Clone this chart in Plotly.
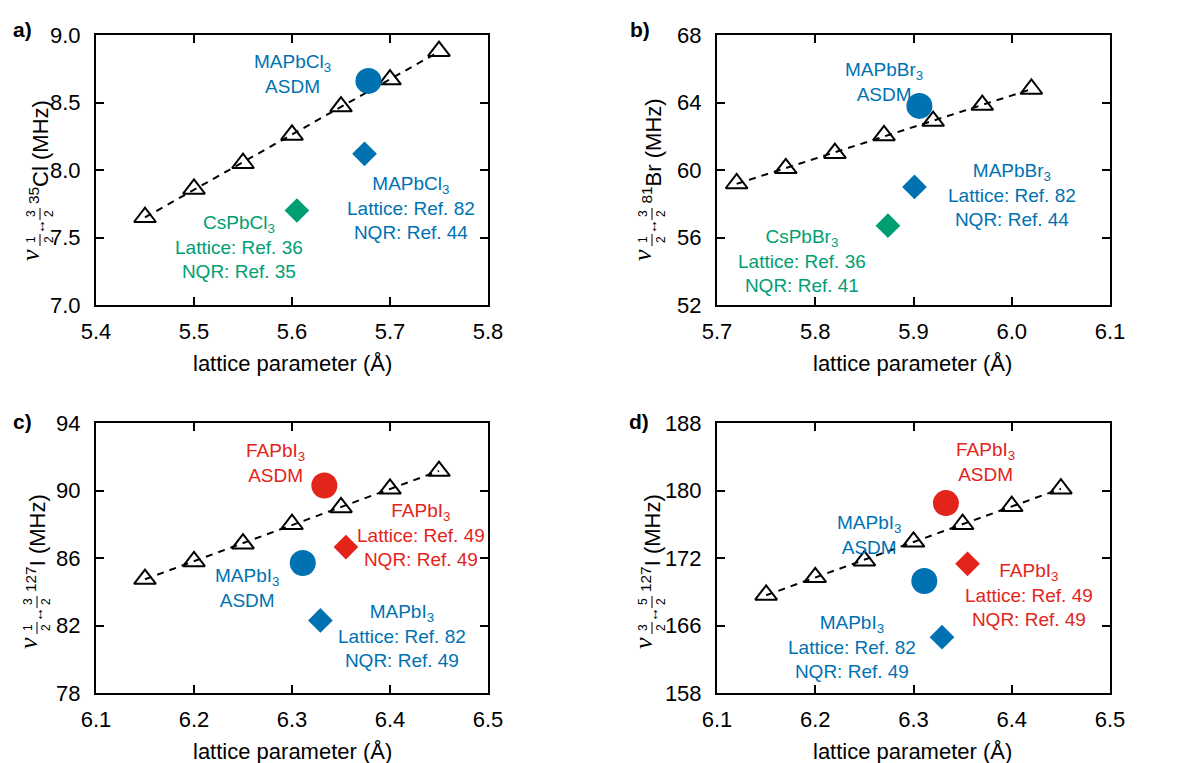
import numpy as np
import plotly.graph_objects as go

# ---------------- data ----------------
# a) 35Cl, nu(1/2 <-> 3/2)
cl_lat = [5.45, 5.50, 5.55, 5.60, 5.65, 5.70, 5.75]
cl_calc = [7.65, 7.86, 8.05, 8.26, 8.47, 8.67, 8.88]
cl_ma_asdm_x, cl_ma_asdm_y = [5.678], [8.66]
cl_ma_exp_x, cl_ma_exp_y = [5.674], [8.12]
cl_cs_exp_x, cl_cs_exp_y = [5.605], [7.70]

# b) 81Br, nu(1/2 <-> 3/2)
br_lat = [5.72, 5.77, 5.82, 5.87, 5.92, 5.97, 6.02]
br_calc = [59.2, 60.1, 61.0, 62.05, 62.9, 63.85, 64.8]
br_ma_asdm_x, br_ma_asdm_y = [5.906], [63.8]
br_ma_exp_x, br_ma_exp_y = [5.901], [59.0]
br_cs_exp_x, br_cs_exp_y = [5.874], [56.7]

# c) 127I, nu(1/2 <-> 3/2)
i1_lat = [6.15, 6.20, 6.25, 6.30, 6.35, 6.40, 6.45]
i1_calc = [84.75, 85.8, 86.85, 88.0, 89.0, 90.1, 91.15]
i1_fa_asdm_x, i1_fa_asdm_y = [6.333], [90.3]
i1_ma_asdm_x, i1_ma_asdm_y = [6.311], [85.7]
i1_fa_exp_x, i1_fa_exp_y = [6.355], [86.65]
i1_ma_exp_x, i1_ma_exp_y = [6.329], [82.3]

# d) 127I, nu(3/2 <-> 5/2)
i2_lat = [6.15, 6.20, 6.25, 6.30, 6.35, 6.40, 6.45]
i2_calc = [168.9, 170.85, 172.7, 174.8, 176.75, 178.75, 180.7]
i2_fa_asdm_x, i2_fa_asdm_y = [6.333], [179.1]
i2_ma_asdm_x, i2_ma_asdm_y = [6.311], [170.45]
i2_fa_exp_x, i2_fa_exp_y = [6.355], [172.35]
i2_ma_exp_x, i2_ma_exp_y = [6.329], [164.2]

# tick values / labels
a_xticks = [5.4, 5.5, 5.6, 5.7, 5.8]
a_yticks = [7.0, 7.5, 8.0, 8.5, 9.0]
b_xticks = [5.7, 5.8, 5.9, 6.0, 6.1]
b_yticks = [52, 56, 60, 64, 68]
c_xticks = [6.1, 6.2, 6.3, 6.4, 6.5]
c_yticks = [78, 82, 86, 90, 94]
d_xticks = [6.1, 6.2, 6.3, 6.4, 6.5]
d_ytickvals = [158, 165.5, 173, 180.5, 188]
d_yticktext = ["158", "166", "172", "180", "188"]

# ---------------- style ----------------
BLUE = "#0072B2"
GREEN = "#009E73"
RED = "#E3241B"
FONT = "Liberation Sans, Arial, sans-serif"
SERIF = "Liberation Serif, Times New Roman, serif"
W, H = 1198, 763

fig = go.Figure()


def px_x(p):
    return p / W


def px_y(p):
    return 1 - p / H


# panel frames in pixels: left, right, top, bottom
boxes = {
    "": (96, 488, 35, 305),
    "2": (717, 1110, 35, 305),
    "3": (96, 488, 423, 693),
    "4": (717, 1110, 423, 693),
}


def add_calc(ax, xs, ys):
    xref, yref = "x" + ax, "y" + ax
    k, b0 = np.polyfit(xs, ys, 1)
    xf = np.array([min(xs), max(xs)])
    fig.add_trace(go.Scatter(x=xf, y=k * xf + b0, mode="lines",
                             line=dict(color="black", width=2, dash="7px,6px"),
                             xaxis=xref, yaxis=yref, showlegend=False, hoverinfo="skip"))
    fig.add_trace(go.Scatter(x=xs, y=ys, mode="markers",
                             marker=dict(symbol="triangle-up-open", size=19, color="black",
                                         line=dict(width=2, color="black")),
                             xaxis=xref, yaxis=yref, showlegend=False))


def add_pt(ax, xs, ys, color, symbol):
    size = 26 if symbol == "circle" else 19
    fig.add_trace(go.Scatter(x=xs, y=ys, mode="markers",
                             marker=dict(symbol=symbol, size=size, color=color, line=dict(width=0)),
                             xaxis="x" + ax, yaxis="y" + ax, showlegend=False))


add_calc("", cl_lat, cl_calc)
add_pt("", cl_ma_asdm_x, cl_ma_asdm_y, BLUE, "circle")
add_pt("", cl_ma_exp_x, cl_ma_exp_y, BLUE, "diamond")
add_pt("", cl_cs_exp_x, cl_cs_exp_y, GREEN, "diamond")

add_calc("2", br_lat, br_calc)
add_pt("2", br_ma_asdm_x, br_ma_asdm_y, BLUE, "circle")
add_pt("2", br_ma_exp_x, br_ma_exp_y, BLUE, "diamond")
add_pt("2", br_cs_exp_x, br_cs_exp_y, GREEN, "diamond")

add_calc("3", i1_lat, i1_calc)
add_pt("3", i1_fa_asdm_x, i1_fa_asdm_y, RED, "circle")
add_pt("3", i1_ma_asdm_x, i1_ma_asdm_y, BLUE, "circle")
add_pt("3", i1_fa_exp_x, i1_fa_exp_y, RED, "diamond")
add_pt("3", i1_ma_exp_x, i1_ma_exp_y, BLUE, "diamond")

add_calc("4", i2_lat, i2_calc)
add_pt("4", i2_fa_asdm_x, i2_fa_asdm_y, RED, "circle")
add_pt("4", i2_ma_asdm_x, i2_ma_asdm_y, BLUE, "circle")
add_pt("4", i2_fa_exp_x, i2_fa_exp_y, RED, "diamond")
add_pt("4", i2_ma_exp_x, i2_ma_exp_y, BLUE, "diamond")

axis_common = dict(showgrid=False, zeroline=False, showline=True, linecolor="black",
                   linewidth=2, mirror="allticks", ticks="inside", ticklen=8,
                   tickwidth=1.5, tickcolor="black", automargin=False,
                   tickfont=dict(family=FONT, size=22, color="black"))

ranges = {
    "": ((5.4, 5.8), a_xticks, (7.0, 9.0), a_yticks, None),
    "2": ((5.7, 6.1), b_xticks, (52, 68), b_yticks, None),
    "3": ((6.1, 6.5), c_xticks, (78, 94), c_yticks, None),
    "4": ((6.1, 6.5), d_xticks, (158, 188), d_ytickvals, d_yticktext),
}

layout_axes = {}
for ax, (l, r, t, b) in boxes.items():
    xr, xt, yr, yt, ytt = ranges[ax]
    layout_axes["xaxis" + ax] = dict(axis_common, domain=[px_x(l), px_x(r)], range=list(xr),
                                     tickvals=xt, ticktext=[f"{v:.1f}" for v in xt],
                                     anchor="y" + ax, ticklabelstandoff=6)
    ytext = ytt if ytt else ([f"{v:.1f}" for v in yt] if ax == "" else [str(v) for v in yt])
    layout_axes["yaxis" + ax] = dict(axis_common, domain=[px_y(b), px_y(t)], range=list(yr),
                                     tickvals=yt, ticktext=ytext,
                                     anchor="x" + ax, ticklabelstandoff=9)

annots = []
shapes = []


def label(ax, x, y, text, color):
    annots.append(dict(x=x, y=y, xref="x" + ax, yref="y" + ax, text=text, showarrow=False,
                       xanchor="center", yanchor="middle", align="center",
                       font=dict(family=FONT, size=19, color=color)))


label("", 5.601, 8.71, "MAPbCl<sub>3</sub><br>ASDM", BLUE)
label("", 5.721, 7.72, "MAPbCl<sub>3</sub><br>Lattice: Ref. 82<br>NQR: Ref. 44", BLUE)
label("", 5.546, 7.43, "CsPbCl<sub>3</sub><br>Lattice: Ref. 36<br>NQR: Ref. 35", GREEN)

label("2", 5.870, 65.2, "MAPbBr<sub>3</sub><br>ASDM", BLUE)
label("2", 6.000, 58.5, "MAPbBr<sub>3</sub><br>Lattice: Ref. 82<br>NQR: Ref. 44", BLUE)
label("2", 5.787, 54.6, "CsPbBr<sub>3</sub><br>Lattice: Ref. 36<br>NQR: Ref. 41", GREEN)

label("3", 6.283, 91.65, "FAPbI<sub>3</sub><br>ASDM", RED)
label("3", 6.432, 87.35, "FAPbI<sub>3</sub><br>Lattice: Ref. 49<br>NQR: Ref. 49", RED)
label("3", 6.254, 84.25, "MAPbI<sub>3</sub><br>ASDM", BLUE)
label("3", 6.412, 81.35, "MAPbI<sub>3</sub><br>Lattice: Ref. 82<br>NQR: Ref. 49", BLUE)

label("4", 6.373, 183.7, "FAPbI<sub>3</sub><br>ASDM", RED)
label("4", 6.418, 168.9, "FAPbI<sub>3</sub><br>Lattice: Ref. 49<br>NQR: Ref. 49", RED)
label("4", 6.255, 175.55, "MAPbI<sub>3</sub><br>ASDM", BLUE)
label("4", 6.237, 163.1, "MAPbI<sub>3</sub><br>Lattice: Ref. 82<br>NQR: Ref. 49", BLUE)

# panel letters
for txt, px, py in [("a)", 22, 29), ("b)", 640, 29), ("c)", 22, 421), ("d)", 639, 421)]:
    annots.append(dict(x=px_x(px), y=px_y(py), xref="paper", yref="paper", text=f"<b>{txt}</b>",
                       showarrow=False, xanchor="center", yanchor="middle",
                       font=dict(family=FONT, size=21, color="black")))


def rot_text(px, py, text, size, family=FONT, xanchor="center", yanchor="middle"):
    annots.append(dict(x=px_x(px), y=px_y(py), xref="paper", yref="paper", text=text,
                       textangle=-90, showarrow=False, xanchor=xanchor, yanchor=yanchor,
                       borderpad=0, font=dict(family=family, size=size, color="black")))


def fraction(px, py, num, den):
    # stacked fraction, turned with the axis title (numerator on the left)
    rot_text(px - 9, py, num, 12)
    rot_text(px + 9, py, den, 12)
    shapes.append(dict(type="line", xref="paper", yref="paper",
                       x0=px_x(px), x1=px_x(px), y0=px_y(py - 6), y1=px_y(py + 6),
                       line=dict(color="black", width=1)))


def y_title(dx, dy, low, high, rest):
    rot_text(31 + dx, 255 + dy, "<i>ν</i>", 26, family=SERIF)
    fraction(40 + dx, 240 + dy, *low)
    rot_text(40 + dx, 227 + dy, "↔", 15)
    fraction(40 + dx, 214 + dy, *high)
    rot_text(54 + dx, 205 + dy, rest, 22, xanchor="right", yanchor="bottom")


y_title(0, 0, ("1", "2"), ("3", "2"), "<sup>35</sup>Cl (MHz)")
y_title(612, 0, ("1", "2"), ("3", "2"), "<sup>81</sup>Br (MHz)")
y_title(-3, 388, ("1", "2"), ("3", "2"), "<sup>127</sup>I (MHz)")
y_title(612, 388, ("3", "2"), ("5", "2"), "<sup>127</sup>I (MHz)")

for px, py in [(292, 363), (913, 363), (292, 751), (913, 751)]:
    annots.append(dict(x=px_x(px), y=px_y(py), xref="paper", yref="paper",
                       text="lattice parameter (Å)", showarrow=False,
                       xanchor="center", yanchor="middle",
                       font=dict(family=FONT, size=22, color="black")))

fig.update_layout(width=W, height=H, margin=dict(l=0, r=0, t=0, b=0),
                  paper_bgcolor="white", plot_bgcolor="white",
                  annotations=annots, shapes=shapes, **layout_axes)

fig.write_html("out.html")
